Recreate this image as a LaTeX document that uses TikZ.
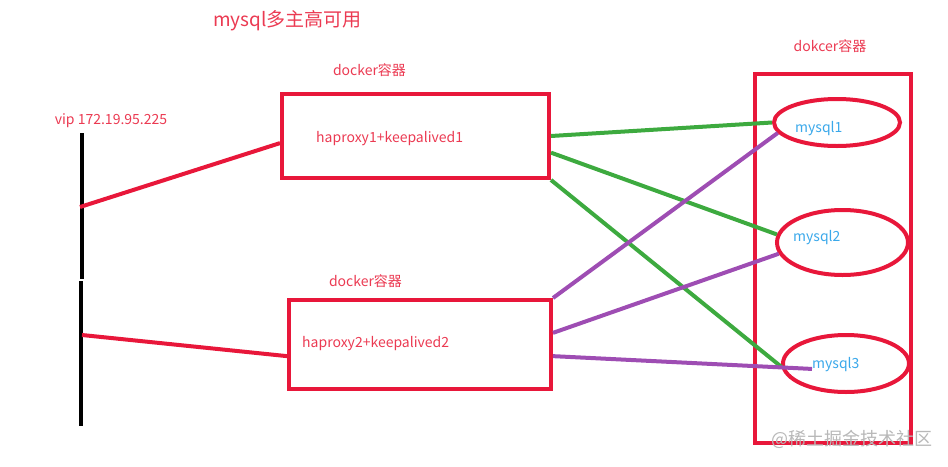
\documentclass[tikz,border=0pt]{standalone}
\usepackage{fontspec}
\newfontfamily\cjk{Noto Sans CJK SC}
\usepackage{tikz}
\usetikzlibrary{positioning,shapes.geometric}
\definecolor{haRed}{HTML}{E8173A}
\definecolor{haRedText}{HTML}{EB3A52}
\definecolor{haGreen}{HTML}{3DAA3F}
\definecolor{haPurple}{HTML}{9E4DB3}
\definecolor{haBlue}{HTML}{3AA8EA}
\definecolor{haMark}{HTML}{B8B8B8}
\tikzset{
  % haproxy container box (red frame)
  hbox/.style={rectangle,draw=haRed,line width=4pt,inner sep=0pt},
  % mysql instance (red ellipse)
  dbell/.style={ellipse,draw=haRed,line width=4pt,inner sep=0pt},
  % Red caption
  lbl/.style={font=\cjk\fontsize{14}{16}\selectfont,text=haRedText,inner sep=0pt},
  % Blue mysql caption
  dblbl/.style={font=\cjk\fontsize{14}{16}\selectfont,text=haBlue,inner sep=0pt},
  % Links
  vlink/.style={draw=haRed,line width=4pt},
  glink/.style={draw=haGreen,line width=4pt},
  plink/.style={draw=haPurple,line width=4pt},
  bus/.style={draw=black,line width=4pt},
}
\begin{document}
\begin{tikzpicture}[x=1pt,y=-1pt]
  \useasboundingbox (0,0) rectangle (948,466);
  \node[lbl,font=\cjk\fontsize{19}{22}\selectfont] (title) at (287.5,21)
    {mysql多主高可用};

  % vip line
  \node[lbl] (vip) at (111,121) {vip 172.19.95.225};
  \draw[bus] (82,133) -- (82,279) (81,281) -- (81,426);
  \coordinate (v1) at (80,207);
  \coordinate (v2) at (82,335);

  % haproxy containers
  \node[hbox,minimum width=267pt,minimum height=84pt] (ha1) at (415.5,136) {};
  \node[lbl] (dk1) at (369.5,70) {docker容器};
  \node[lbl,anchor=west] (ha1txt) at (316,139) {haproxy1+keepalived1};

  \node[hbox,minimum width=262pt,minimum height=89pt] (ha2) at (420,344.5) {};
  \node[lbl] (dk2) at (365.5,281) {docker容器};
  \node[lbl,anchor=west] (ha2txt) at (302,344) {haproxy2+keepalived2};

  % mysql container
  \node[hbox,minimum width=156pt,minimum height=369pt] (dbc) at (833,258.5) {};
  \node[lbl] (dk3) at (830,46) {dokcer容器};
  \node[dbell,minimum width=126pt,minimum height=47pt] (m1) at (837,122.5) {};
  \node[dbell,minimum width=131pt,minimum height=65pt] (m2) at (842.5,242.5) {};
  \node[dbell,minimum width=126pt,minimum height=57pt] (m3) at (846,363.5) {};
  \node[dblbl,anchor=west] (t1) at (795,129) {mysql1};
  \node[dblbl,anchor=west] (t2) at (793,238) {mysql2};
  \node[dblbl,anchor=west] (t3) at (812,365) {mysql3};

  \node[font=\cjk\fontsize{18}{20}\selectfont,text=haMark,inner sep=0pt] (mark)
    at (852,439) {@稀土掘金技术社区};

  \draw[vlink] (v1) -- (ha1.183);
  \draw[vlink] (v2) -- (ha2.185);
  \draw[glink] (ha1.east) -- (m1.west);
  \draw[glink] (ha1.353) -- (m2.173);
  \draw[glink] (ha1.south east) -- (m3.183);
  \draw[plink] (ha2.north east) -- (m1.190);
  \draw[plink] (ha2.5) -- (m2.190);
  \draw[plink] (ha2.355) -- (t3.base west);
\end{tikzpicture}
\end{document}
